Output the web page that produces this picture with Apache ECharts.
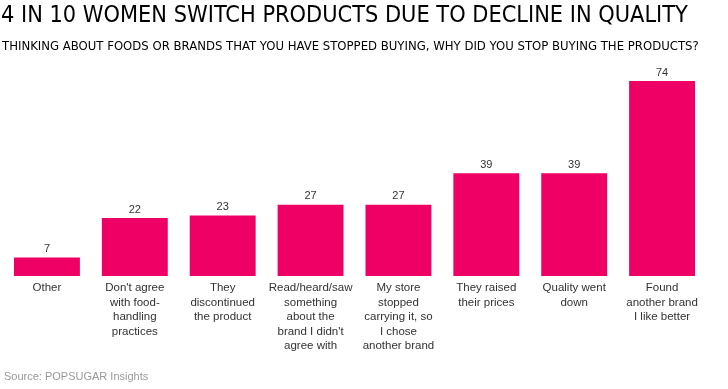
<!DOCTYPE html>
<html><head><meta charset="utf-8">
<script src="https://cdn.jsdelivr.net/npm/echarts@6/dist/echarts.min.js"></script>
<style>html,body{margin:0;padding:0;background:#fff}#c{width:728px;height:389px}</style>
</head><body><div id="c"></div>
<script>
var categories = [
  "Other",
  "Don't agree\nwith food-\nhandling\npractices",
  "They\ndiscontinued\nthe product",
  "Read/heard/saw\nsomething\nabout the\nbrand I didn't\nagree with",
  "My store\nstopped\ncarrying it, so\nI chose\nanother brand",
  "They raised\ntheir prices",
  "Quality went\ndown",
  "Found\nanother brand\nI like better"
];
var values = [7, 22, 23, 27, 27, 39, 39, 74];
var titleText = "4 IN 10 WOMEN SWITCH PRODUCTS DUE TO DECLINE IN QUALITY";
var subtitleText = "THINKING ABOUT FOODS OR BRANDS THAT YOU HAVE STOPPED BUYING, WHY DID YOU STOP BUYING THE PRODUCTS?";
var sourceText = "Source: POPSUGAR Insights";

var chart = echarts.init(document.getElementById('c'));
var narrow = "'Liberation Sans Narrow','Arial Narrow','DejaVu Sans Condensed',sans-serif";
var sans = "'Liberation Sans', Arial, sans-serif";
chart.setOption({
  animation: false,
  title: [
    {text: titleText, left: 1, top: 4, padding: 0,
     textStyle: {fontFamily: narrow, fontSize: 23.3, fontWeight: 'normal', color: '#000'}},
    {text: subtitleText, left: 2, top: 40, padding: 0,
     textStyle: {fontFamily: narrow, fontSize: 13, fontWeight: 'normal', color: '#000'}},
    {text: sourceText, left: 4, top: 371, padding: 0,
     textStyle: {fontFamily: sans, fontSize: 11, fontWeight: 'normal', color: '#999'}}
  ],
  grid: {left: 3, right: 22, top: 81, bottom: 113, containLabel: false},
  xAxis: {
    type: 'category', data: categories,
    axisLine: {show: false}, axisTick: {show: false},
    axisLabel: {interval: 0, margin: 5, fontFamily: sans, fontSize: 11.5, color: '#333', lineHeight: 14.4, align: 'center'}
  },
  yAxis: {type: 'value', min: 0, max: 74, show: false, splitLine: {show: false}},
  series: [{
    type: 'bar', data: values, barWidth: '75%',
    itemStyle: {color: '#EE0064'},
    label: {show: true, position: 'top', distance: 3, fontFamily: sans, fontSize: 11, color: '#333'}
  }]
});
</script></body></html>
